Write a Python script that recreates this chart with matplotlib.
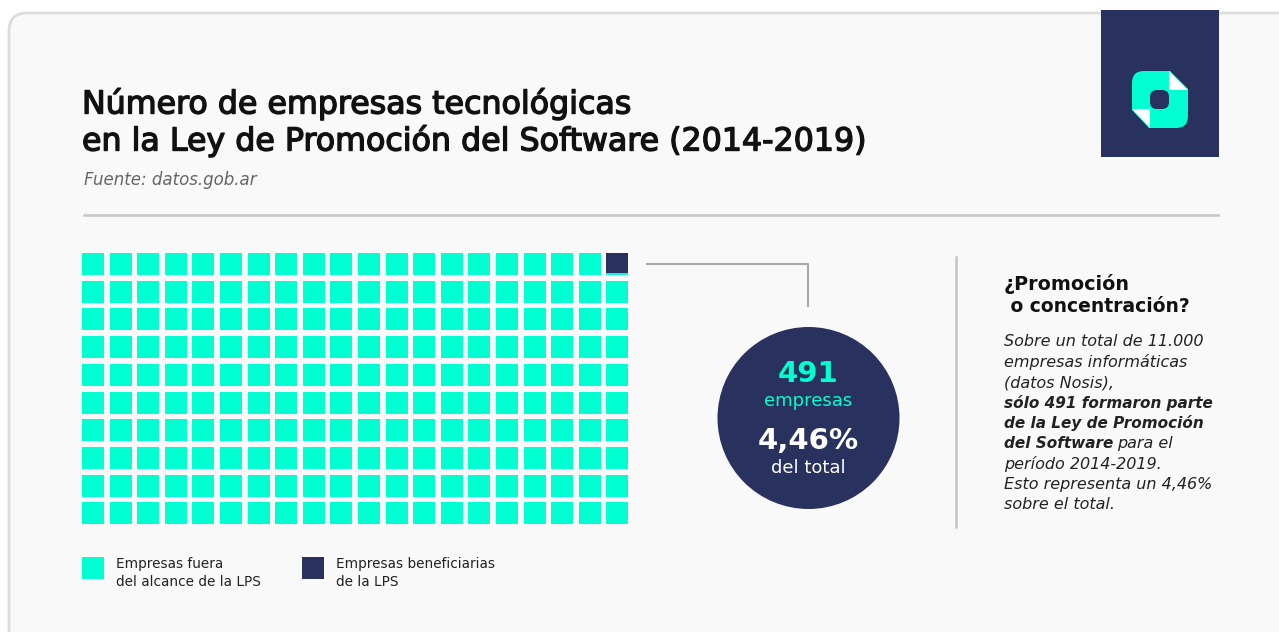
import matplotlib.pyplot as plt
import matplotlib.patheffects as pe
from matplotlib.patches import Rectangle, Circle, FancyBboxPatch, Polygon

# data
n_cols, n_rows = 20, 10
dark_fill = {19: 0.9}          # cell index -> share drawn in dark (top-right cell)
total_empresas = "11.000"
lps_empresas = 491
lps_pct = "4,46%"
legend_labels = ["Empresas fuera\ndel alcance de la LPS", "Empresas beneficiarias\nde la LPS"]

cyan = '#02ffd1'
navy = '#29325e'
grey_line = '#c4c4c4'
font = 'DejaVu Sans'

fig = plt.figure(figsize=(12.79, 6.32), dpi=100)
ax = fig.add_axes([0, 0, 1, 1])
ax.set_xlim(0, 1279)
ax.set_ylim(632, 0)
ax.axis('off')

# card background
ax.add_patch(FancyBboxPatch((9, 13), 1300, 700, boxstyle='round,pad=0,rounding_size=18',
                            fc='#f9f9f9', ec='#dcdcdc', lw=2))

# logo
ax.add_patch(Rectangle((1101, 10), 118, 147, fc=navy, ec='none'))
ax.add_patch(FancyBboxPatch((1132, 71), 56, 57, boxstyle='round,pad=0,rounding_size=12',
                            fc=cyan, ec='none'))
ax.add_patch(Polygon([(1169, 70), (1189, 70), (1189, 90)], fc=navy, ec='none'))
ax.add_patch(Polygon([(1169, 71), (1169, 90), (1188, 90)], fc='white', ec='none'))
ax.add_patch(Polygon([(1131, 109), (1131, 129), (1150, 129)], fc=navy, ec='none'))
ax.add_patch(Polygon([(1131.5, 109), (1150, 109), (1150, 128)], fc='white', ec='none'))
ax.add_patch(FancyBboxPatch((1150, 90), 19, 19, boxstyle='round,pad=0,rounding_size=7',
                            fc=navy, ec='none'))

# title
thick = [pe.withStroke(linewidth=1.0, foreground='#111111')]
ax.text(82, 104, "Número de empresas tecnológicas", fontsize=22.8,
        family=font, color='#111111', va='center', path_effects=thick)
ax.text(82, 141, "en la Ley de Promoción del Software (2014-2019)", fontsize=22.8,
        family=font, color='#111111', va='center', path_effects=thick)
ax.text(84, 180, "Fuente: datos.gob.ar", fontsize=12, style='italic', family=font,
        color='#666666', va='center')
ax.plot([84, 1218], [215, 215], color=grey_line, lw=1.8)

# waffle
x0, y0, pitch_x, pitch_y, size = 82, 253, 27.6, 27.7, 22
for i in range(n_cols * n_rows):
    r, c = divmod(i, n_cols)
    x, y = x0 + c * pitch_x, y0 + r * pitch_y
    ax.add_patch(Rectangle((x, y), size, size, fc=cyan, ec='none'))
    if i in dark_fill:
        ax.add_patch(Rectangle((x, y), size, size * dark_fill[i], fc=navy, ec='none'))

# connector + circle
ax.plot([647, 808, 808], [263.5, 263.5, 306], color='#aaaaaa', lw=1.5)
ax.add_patch(Circle((808.5, 418), 91, fc=navy, ec='none'))
ax.text(808.5, 374, str(lps_empresas), fontsize=21, fontweight='bold', family=font,
        color=cyan, ha='center', va='center')
ax.text(808.5, 401, "empresas", fontsize=13, family=font, color=cyan,
        ha='center', va='center')
ax.text(808.5, 441, lps_pct, fontsize=21, fontweight='bold', family=font,
        color='white', ha='center', va='center')
ax.text(808.5, 468, "del total", fontsize=13, family=font, color='white',
        ha='center', va='center')

# divider and side text
ax.plot([956, 956], [257, 527], color=grey_line, lw=1.8)
ax.text(1004, 284, "¿Promoción", fontsize=13.8, fontweight='semibold', family=font,
        color='#111111', va='center')
ax.text(1004, 307, " o concentración?", fontsize=13.5, fontweight='semibold', family=font,
        color='#111111', va='center')
side_lines = [
    (f"Sobre un total de {total_empresas}", 'normal'),
    ("empresas informáticas", 'normal'),
    ("(datos Nosis),", 'normal'),
    (f"sólo {lps_empresas} formaron parte", 'bold'),
    ("de la Ley de Promoción", 'bold'),
    (None, None),
    ("período 2014-2019.", 'normal'),
    (f"Esto representa un {lps_pct}", 'normal'),
    ("sobre el total.", 'normal'),
]
for k, (txt, w) in enumerate(side_lines):
    y = 342 + k * 20.3
    if txt is None:
        t = ax.text(1004, y, "del Software", fontsize=11, style='italic', fontweight='bold',
                    family=font, color='#222222', va='center')
        fig.canvas.draw()
        bb = t.get_window_extent()
        ax.text(bb.x1 + 4, y, "para el", fontsize=11.5, style='italic', family=font,
                color='#222222', va='center')
        continue
    ax.text(1004, y, txt, fontsize=11 if w == 'bold' else 11.5, style='italic',
            fontweight=w, family=font, color='#222222', va='center')

# legend
for k, (lab, col) in enumerate(zip(legend_labels, [cyan, navy])):
    lx = 82 + k * 220
    ax.add_patch(Rectangle((lx, 557), 22, 22, fc=col, ec='none'))
    ax.text(lx + 34, 573, lab, fontsize=9.8, family=font, color='#222222',
            va='center', linespacing=1.3)

fig.savefig('out.png', dpi=100, facecolor='white')
